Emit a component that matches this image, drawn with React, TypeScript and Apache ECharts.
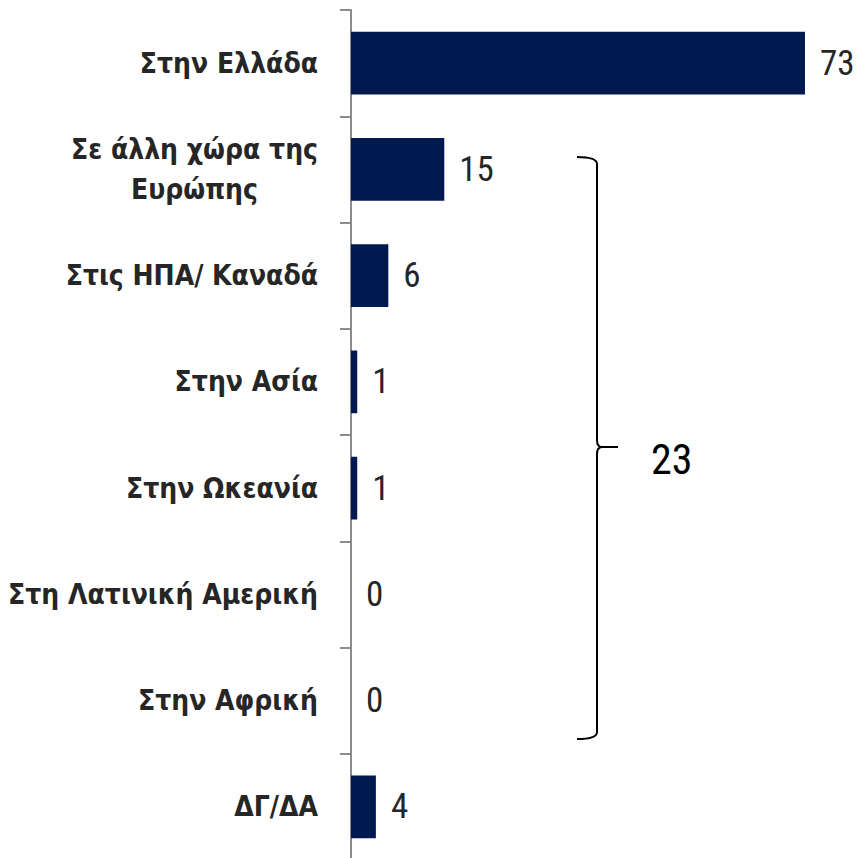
import React, { useEffect, useRef } from "react";
import * as echarts from "echarts";

const categories = [
  "Στην Ελλάδα",
  "Σε άλλη χώρα της\nΕυρώπης",
  "Στις ΗΠΑ/ Καναδά",
  "Στην Ασία",
  "Στην Ωκεανία",
  "Στη Λατινική Αμερική",
  "Στην Αφρική",
  "ΔΓ/ΔΑ",
];
const values = [73, 15, 6, 1, 1, 0, 0, 4];
const bracketTotal = "23";

const FONT = "'Liberation Sans Narrow', 'Roboto Condensed', 'Liberation Sans', sans-serif";
const LABEL_FONT = "'DejaVu Sans Condensed', 'DejaVu Sans', sans-serif";

const braceD =
  "M577,157 Q597,157 597,164 L597,440 Q597,447 602,447 L618,447 M602,447 Q597,447 597,454 L597,732 Q597,739 577,739";

let registered = false;

export default function App() {
  const ref = useRef<HTMLDivElement>(null);
  useEffect(() => {
    if (!ref.current) return;
    if (!registered) {
      echarts.graphic.registerShape("brace", echarts.graphic.extendPath(braceD, {}) as any);
      registered = true;
    }
    const chart = echarts.init(ref.current, null, { renderer: "svg" });
    chart.setOption({
      animation: false,
      backgroundColor: "#ffffff",
      grid: {
        left: 351,
        top: 10,
        right: 10.5,
        bottom: -2,
        containLabel: false,
        outerBoundsMode: "none",
      },
      xAxis: {
        type: "value",
        min: 0,
        max: 80,
        show: false,
      },
      yAxis: {
        type: "category",
        inverse: true,
        data: categories,
        axisLine: { show: true, lineStyle: { color: "#8c8c8c", width: 2 } },
        axisTick: { show: true, inside: false, length: 11, lineStyle: { color: "#8c8c8c", width: 2 } },
        splitLine: { show: false },
        axisLabel: {
          margin: 33,
          fontFamily: LABEL_FONT,
          fontWeight: "bold",
          fontSize: 28,
          color: "#262626",
          lineHeight: 40,
          formatter: (v: string) =>
            v
              .split("\n")
              .map((l) => "{c|" + l + "}")
              .join("\n"),
          rich: {
            c: {
              fontFamily: LABEL_FONT,
              fontWeight: "bold",
              fontSize: 28,
              color: "#262626",
              lineHeight: 40,
              align: "center",
            },
          },
        },
      },
      series: [
        {
          type: "bar",
          data: values,
          barCategoryGap: "41%",
          itemStyle: { color: "#001a4f" },
          label: {
            show: true,
            position: "right",
            distance: 15,
            fontFamily: FONT,
            fontSize: 35,
            color: "#262626",
          },
        },
      ],
      graphic: [
        {
          type: "brace",
          x: 0,
          y: 0,
          shape: {},
          style: { stroke: "#000000", fill: "none", lineWidth: 2 },
          silent: true,
        },
        {
          type: "text",
          x: 651,
          y: 459,
          style: {
            text: bracketTotal,
            fontFamily: FONT,
            fontSize: 42,
            fill: "#000000",
            textVerticalAlign: "middle",
          },
          silent: true,
        },
      ],
    });
    return () => chart.dispose();
  }, []);
  return (
    <div
      ref={ref}
      style={{ position: "fixed", left: 0, top: 0, width: 859, height: 858 }}
    />
  );
}
